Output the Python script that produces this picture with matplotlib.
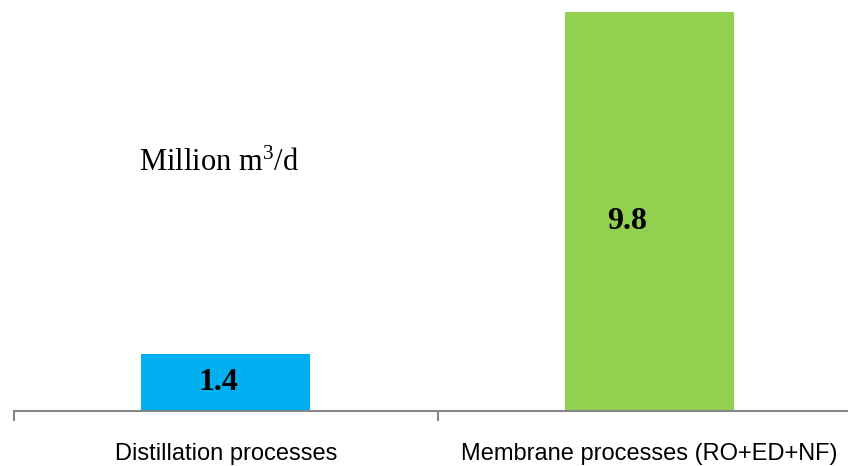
import matplotlib.pyplot as plt

# data
categories = ['Distillation processes', 'Membrane processes (RO+ED+NF)']
capacity = [1.4, 9.8]
bar_colors = ['#00B0F0', '#92D050']
unit_label = r'Million $\mathregular{m^3}$/d'

plt.rcParams['mathtext.fontset'] = 'custom'
plt.rcParams['mathtext.rm'] = 'Liberation Serif'

fig = plt.figure(figsize=(8.48, 4.66), dpi=100)
ax = fig.add_axes([14 / 848, 55 / 466, 847 / 848, 399 / 466])

x = list(range(len(categories)))
bars = ax.bar(x, capacity, width=0.4, color=bar_colors, zorder=2)

ax.set_xlim(-0.5, 1.5)
ax.set_ylim(0, 9.8)

for side in ['top', 'left', 'right']:
    ax.spines[side].set_visible(False)
ax.spines['bottom'].set_color('#868686')
ax.spines['bottom'].set_linewidth(1.5)
ax.set_yticks([])

# category labels in the middle, tick marks on the boundaries
ax.set_xticks(x)
ax.set_xticklabels(categories, fontsize=17, family='Liberation Sans')
ax.tick_params(axis='x', which='major', length=0, pad=23)
ax.set_xticks([-0.5, 0.5, 1.5], minor=True)
ax.tick_params(axis='x', which='minor', length=7, width=1.5, color='#868686')

# value labels inside bars
offsets = [(-7, 0), (-22, -10)]
for b, v, off in zip(bars, capacity, offsets):
    ax.annotate(f'{v}', (b.get_x() + b.get_width() / 2, v / 2),
                xytext=off, textcoords='offset pixels',
                ha='center', va='center', fontsize=23, fontweight='bold',
                family='Liberation Serif')

fig.text(139 / 848, 1 - 163 / 466, unit_label, fontsize=22,
         family='Liberation Serif', ha='left', va='center')

fig.savefig('out.png', dpi=100)
